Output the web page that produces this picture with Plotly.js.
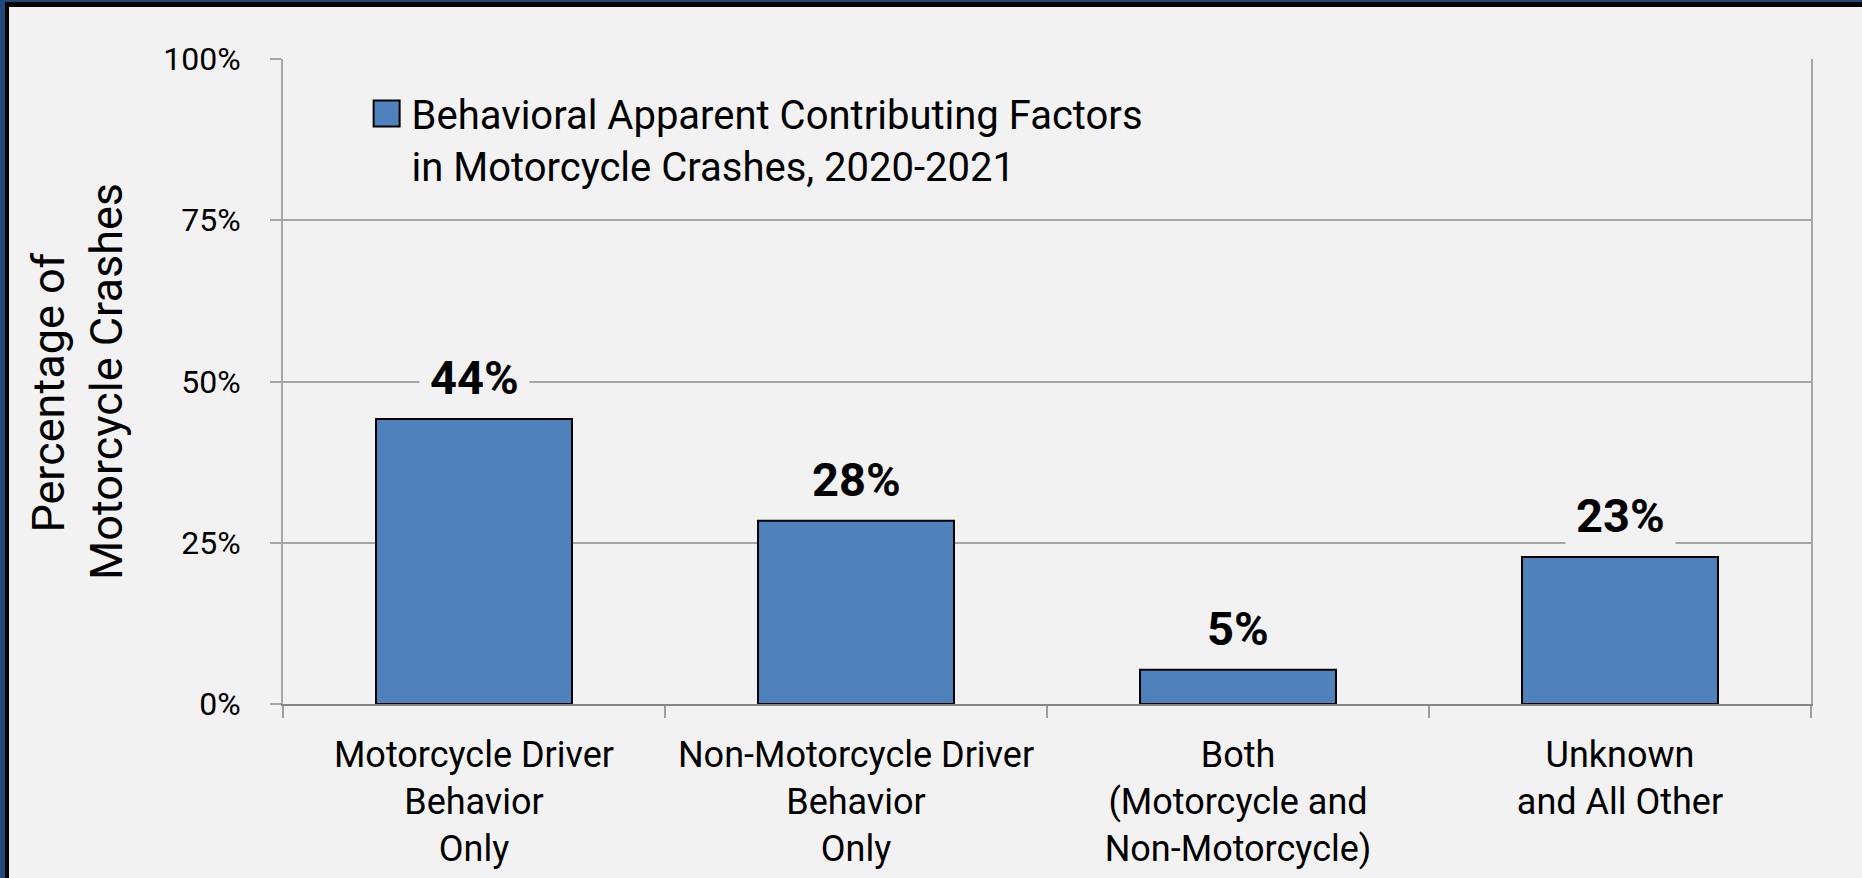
<!DOCTYPE html>
<html>
<head>
<meta charset="utf-8">
<script src="https://cdn.plot.ly/plotly-3.0.1.min.js"></script>
<style>
  html, body { margin: 0; padding: 0; background: #F2F2F2; }
  #frame { width: 1862px; height: 878px; box-sizing: border-box; background: #1F497D; padding-left: 5px; padding-top: 2px; overflow: hidden; }
  #inner { box-sizing: border-box; width: 1857px; height: 876px; border-left: 4px solid #000; border-top: 5px solid #000; background: #F2F2F2; }
  #chart { width: 1853px; height: 871px; }
</style>
</head>
<body>
<div id="frame"><div id="inner"><div id="chart"></div></div></div>
<script>
const categories = [
  'Motorcycle Driver<br>Behavior<br>Only',
  'Non-Motorcycle Driver<br>Behavior<br>Only',
  'Both<br>(Motorcycle and<br>Non-Motorcycle)',
  'Unknown<br>and All Other'
];
const values = [44.2, 28.4, 5.3, 22.8];
const yTickValues = [0, 25, 50, 75, 100];
const yTickLabels = ['0%', '25%', '50%', '75%', '100%'];
const seriesName = 'Behavioral Apparent Contributing Factors<br>in Motorcycle Crashes, 2020-2021';
const yTitle = 'Percentage of\u00a0\u00a0<br>Motorcycle Crashes\u00a0\u00a0';

const FONT = 'Roboto, "Liberation Sans", sans-serif';
const BG = '#F2F2F2';

const trace = {
  type: 'bar',
  x: categories,
  y: values,
  name: seriesName,
  marker: { color: '#4F81BD', line: { color: '#000000', width: 2 } },
  hoverinfo: 'skip'
};

const annotations = values.map((v, i) => ({
  x: categories[i],
  y: v,
  xref: 'x',
  yref: 'y',
  text: Math.round(v) + '%',
  showarrow: false,
  yanchor: 'bottom',
  yshift: 3,
  bgcolor: BG,
  borderpad: 10,
  font: { family: FONT, size: 47, weight: 700, color: '#000' }
}));

const layout = {
  width: 1853,
  height: 871,
  margin: { l: 274, r: 51, t: 52, b: 174, pad: 0 },
  paper_bgcolor: BG,
  plot_bgcolor: BG,
  font: { family: FONT, color: '#000' },
  bargap: 0.487,
  showlegend: true,
  legend: {
    x: 0.058, y: 0.966, xanchor: 'left', yanchor: 'top',
    bgcolor: 'rgba(0,0,0,0)', valign: 'top',
    font: { family: FONT, size: 40, color: '#000' }
  },
  xaxis: {
    type: 'category',
    showgrid: false,
    showline: true, linecolor: '#868686', linewidth: 2,
    ticks: 'outside', tickson: 'boundaries', ticklen: 12, tickwidth: 2, tickcolor: '#A0A0A0',
    tickfont: { family: FONT, size: 36, color: '#000' },
    ticklabelstandoff: 18,
    fixedrange: true
  },
  yaxis: {
    range: [0, 100],
    tickmode: 'array', tickvals: yTickValues, ticktext: yTickLabels,
    showgrid: true, gridcolor: '#A6A6A6', gridwidth: 2,
    zeroline: false,
    showline: true, linecolor: '#A6A6A6', linewidth: 2, mirror: true,
    ticks: 'outside', ticklen: 11, tickwidth: 2, tickcolor: '#A6A6A6',
    tickfont: { family: FONT, size: 32, color: '#000' },
    ticklabelstandoff: 23,
    title: { text: yTitle, font: { family: FONT, size: 45, color: '#000' }, standoff: 26 },
    fixedrange: true
  },
  annotations: annotations
};

Plotly.newPlot('chart', [trace], layout, { displayModeBar: false, staticPlot: true }).then(gd => {
  gd.querySelectorAll('.legendpoints path').forEach(p => {
    p.setAttribute('d', 'M8,13H-18V-13H8Z');
  });
});
</script>
</body>
</html>
